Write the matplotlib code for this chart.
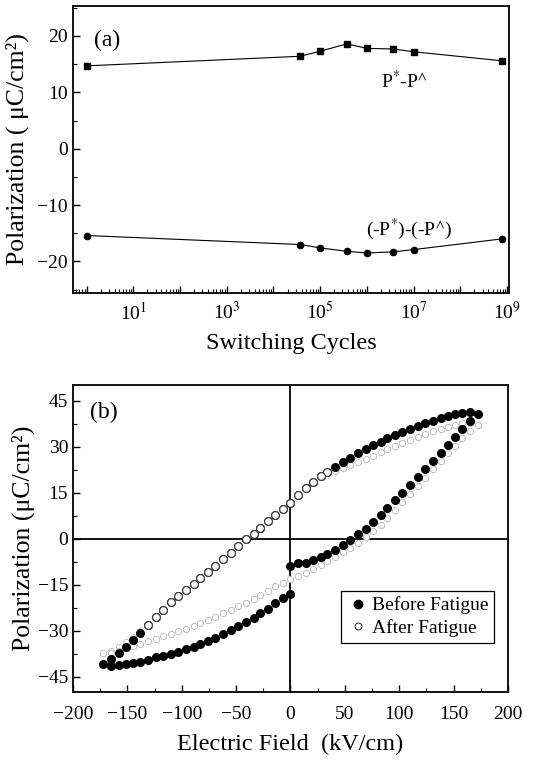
import numpy as np
import matplotlib
matplotlib.use("Agg")
import matplotlib.pyplot as plt
from matplotlib.ticker import MultipleLocator, FixedLocator, LogLocator, FuncFormatter, NullFormatter
from matplotlib.lines import Line2D

plt.rcParams['font.family'] = ['Liberation Serif', 'DejaVu Serif']
plt.rcParams['mathtext.fontset'] = 'stix'

# (a) fatigue data
cycles = [1, 3.7e4, 1e5, 3.7e5, 1e6, 3.7e6, 1e7, 7.8e8]
p_pos = [14.7, 16.4, 17.3, 18.6, 17.8, 17.7, 17.2, 15.6]
p_neg = [-15.4, -17.0, -17.6, -18.2, -18.5, -18.3, -17.9, -16.0]

# (b) hysteresis loops, before fatigue
bf_low_left_E = [-172, -165, -158, -151, -145, -138, -131, -124, -117, -110, -103, -96, -89,
                 -83, -76, -69, -62, -55, -48, -41, -34, -28, -21, -14, -7, 0]
bf_low_left_P = [-41.0, -41.4, -41.2, -41.0, -40.7, -40.1, -39.4, -38.7, -38.2, -37.5, -36.9, -36.1, -35.3,
                 -34.5, -33.4, -32.3, -31.1, -29.9, -28.6, -27.3, -25.8, -24.4, -22.8, -21.1, -19.5, -17.9]
bf_low_right_E = [0, 7, 14, 21, 28, 34, 41, 48, 55, 62, 69, 76, 83,
                  89, 96, 103, 110, 117, 124, 131, 138, 145, 151, 158, 165, 172]
bf_low_right_P = [-8.8, -8.1, -7.8, -7.0, -5.9, -5.0, -3.7, -2.1, -0.5, 1.4, 3.0, 5.5, 7.6,
                  10.1, 12.5, 14.8, 17.5, 20.2, 22.7, 25.2, 27.8, 30.5, 33.0, 35.7, 38.4, 40.5]
bf_up_E = [165, 158, 151, 145, 138, 131, 124, 117, 110, 103, 96, 89, 83, 76, 69, 62, 55, 48, 41, 34,
           28, 21, 14, 7, 0, -7, -14, -21, -28, -34, -41, -48, -55, -62, -69, -76, -83, -89, -96,
           -103, -110, -117, -124, -131, -138, -145, -151, -158, -165]
bf_up_P = [41.4, 40.9, 40.5, 40.0, 39.3, 38.5, 37.6, 36.7, 35.8, 34.8, 33.8, 32.7, 31.6, 30.4, 29.2,
           27.8, 26.4, 25.0, 23.4, 21.8, 20.3, 18.5, 16.6, 14.3, 11.5, 9.7, 7.8, 5.8, 3.6, 1.5, -0.2,
           -2.5, -4.6, -6.7, -8.8, -10.8, -12.9, -14.8, -16.6, -18.6, -20.8, -23.4, -25.6, -28.2,
           -30.8, -33.2, -35.2, -37.3, -39.3]

# after fatigue
af_up_E = [172, 165, 158, 151, 145, 138, 131, 124, 117, 110, 103, 96, 89, 83, 76, 69, 62, 55, 48, 41,
           34, 28, 21, 14, 7, 0, -7, -14, -21, -28, -34, -41, -48, -55, -62, -69, -76, -83, -89, -96,
           -103, -110, -117, -124, -131, -138, -145, -151, -158, -165, -172]
af_up_P = [37.0, 37.8, 37.6, 37.1, 36.5, 35.8, 35.0, 34.1, 33.2, 32.3, 31.3, 30.3, 29.3, 28.2, 27.1,
           26.1, 25.0, 24.0, 23.0, 22.2, 21.8, 20.3, 18.5, 16.6, 14.3, 11.5, 9.7, 7.8, 5.8, 3.6, 1.5,
           -0.2, -2.5, -4.6, -6.7, -8.8, -10.8, -12.9, -14.8, -16.6, -18.6, -20.8, -23.4, -25.6,
           -28.2, -30.2, -32.2, -33.8, -35.2, -36.5, -37.3]
af_low_E = [-165, -158, -151, -145, -138, -131, -124, -117, -110, -103, -96, -89, -83, -76, -69, -62,
            -55, -48, -41, -34, -28, -21, -14, -7, 0, 7, 14, 21, 28, 34, 41, 48, 55, 62, 69, 76, 83,
            89, 96, 103, 110, 117, 124, 131, 138, 145, 151, 158, 165, 172]
af_low_P = [-37.4, -36.6, -35.8, -35.0, -34.2, -33.4, -32.6, -31.8, -31.0, -30.2, -29.3, -28.4, -27.5,
            -26.5, -25.5, -24.4, -23.3, -22.1, -20.9, -19.6, -18.3, -17.0, -15.6, -14.3, -13.3, -12.2,
            -11.1, -9.9, -8.6, -7.3, -6.0, -4.5, -3.0, -1.3, 0.4, 2.4, 4.5, 6.8, 9.2, 11.8, 14.5, 17.2,
            19.9, 22.6, 25.2, 27.8, 30.3, 32.8, 35.0, 37.0]

fig = plt.figure(figsize=(5.5, 7.65), dpi=100)

# ---- panel (a)
ax1 = fig.add_axes([0.1327, 0.617, 0.7927, 0.375])
ax1.plot(cycles, p_pos, '-s', color='black', lw=0.8, ms=4.5)
ax1.plot(cycles, p_neg, '-o', color='black', lw=0.8, ms=4.5)
ax1.set_xscale('log')
ax1.set_xlim(0.51, 1.1e9)
ax1.set_ylim(-25.6, 25.3)
ax1.xaxis.set_major_locator(LogLocator(base=10, numticks=20))
ax1.xaxis.set_minor_locator(LogLocator(base=10, subs=np.arange(2, 10), numticks=20))
ax1.xaxis.set_minor_formatter(NullFormatter())


def odd_pow(v, pos):
    e = int(round(np.log10(v)))
    return r'10$^{%d}$' % e if e % 2 == 1 else ''


ax1.xaxis.set_major_formatter(FuncFormatter(odd_pow))
ax1.yaxis.set_major_locator(MultipleLocator(10))
ax1.yaxis.set_minor_locator(MultipleLocator(5))
ax1.set_xlabel('Switching Cycles', fontsize=17.5, labelpad=7)
ax1.set_ylabel('Polarization ( μC/cm²)', fontsize=18.5, labelpad=6)
ax1.text(0.078, 0.88, '(a)', transform=ax1.transAxes, fontsize=17, ha='center', va='center')
ax1.text(0.76, 0.74, r'P$^{*}$-P$^{\wedge}$', transform=ax1.transAxes, fontsize=14,
         ha='center', va='center')
ax1.text(0.77, 0.22, r'(-P$^{*}$)-(-P$^{\wedge}$)', transform=ax1.transAxes, fontsize=14,
         ha='center', va='center')

# ---- panel (b)
ax2 = fig.add_axes([0.1327, 0.0954, 0.7909, 0.401])
ax2.axhline(0, color='black', lw=1.3, zorder=1)
ax2.axvline(0, color='black', lw=1.3, zorder=1)

af_up_E_a = np.array(af_up_E)
af_up_P_a = np.array(af_up_P)
overlap = (af_up_E_a >= -131) & (af_up_E_a <= 34)

# faint after-fatigue points
ax2.plot(af_up_E_a[~overlap], af_up_P_a[~overlap], 'o', ms=4.5, mfc='white', mec='#b5b5b5',
         mew=0.6, ls='none', zorder=2)
ax2.plot(af_low_E, af_low_P, 'o', ms=4.5, mfc='white', mec='#b5b5b5', mew=0.6, ls='none', zorder=2)

# before fatigue
for e, p in [(bf_low_left_E, bf_low_left_P), (bf_low_right_E, bf_low_right_P), (bf_up_E, bf_up_P)]:
    ax2.plot(e, p, 'o', ms=5.5, color='black', ls='none', zorder=3)

# after fatigue where it lies on the before curve
ax2.plot(af_up_E_a[overlap], af_up_P_a[overlap], 'o', ms=5.5, mfc='white', mec='#444444',
         mew=0.8, ls='none', zorder=4)

ax2.set_xlim(-200, 200)
ax2.set_ylim(-50, 50)
ax2.xaxis.set_major_locator(MultipleLocator(50))
ax2.xaxis.set_minor_locator(MultipleLocator(25))
ax2.yaxis.set_major_locator(FixedLocator([-45, -30, -15, 0, 15, 30, 45]))
ax2.yaxis.set_minor_locator(FixedLocator(np.arange(-45, 46, 7.5)))
ax2.set_xlabel('Electric Field  (kV/cm)', fontsize=17.5, labelpad=8)
ax2.set_ylabel('Polarization (μC/cm²)', fontsize=18.5, labelpad=2)
ax2.text(0.07, 0.91, '(b)', transform=ax2.transAxes, fontsize=17, ha='center', va='center')

handles = [Line2D([], [], marker='o', ls='none', color='black', ms=6),
           Line2D([], [], marker='o', ls='none', mfc='white', mec='black', mew=0.6, ms=5)]
leg = ax2.legend(handles, ['Before Fatigue', 'After Fatigue'], loc='lower left',
                 bbox_to_anchor=(0.616, 0.16), fontsize=14, fancybox=False, framealpha=1,
                 handletextpad=0.1, handlelength=1.2, borderpad=0.3, labelspacing=0.25,
                 borderaxespad=0)
leg.get_frame().set_edgecolor('black')
leg.get_frame().set_linewidth(0.9)

for ax in (ax1, ax2):
    for s in ax.spines.values():
        s.set_linewidth(1.3)
    ax.tick_params(which='both', direction='in', top=False, right=False, labelsize=14)
    ax.tick_params(which='major', length=5, width=1)
    ax.tick_params(which='minor', length=3, width=0.8)
ax1.tick_params(axis='x', pad=6)
ax2.tick_params(axis='x', pad=10)

fig.savefig('out.png', dpi=100)
